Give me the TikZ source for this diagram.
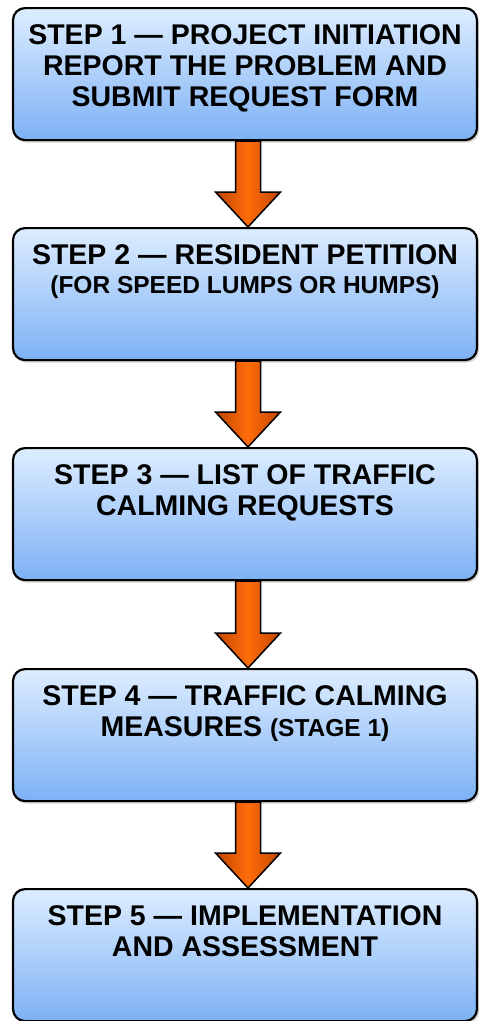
\documentclass[tikz,border=0pt]{standalone}
\usepackage{fontspec}
\setmainfont{Liberation Sans}
\usetikzlibrary{calc,shadows}
\definecolor{boxtop}{HTML}{DDEDFF}
\definecolor{boxbot}{HTML}{7DB1F5}
\definecolor{arrmid}{HTML}{FF6C0A}
\definecolor{arredge}{HTML}{C04600}
\tikzset{
  stepbox/.style={draw=black, line width=2.2pt, rounded corners=12pt,
    top color=boxtop, bottom color=boxbot,
    minimum width=464pt, minimum height=132pt, anchor=north, inner sep=0pt,
    drop shadow={opacity=0.35, shadow xshift=2pt, shadow yshift=-2.5pt}},
  steptext/.style={anchor=north, inner sep=0pt, align=center,
    font=\bfseries\fontsize{28.5}{31}\selectfont},
  flowarrow/.style={draw=black, line width=1.5pt, line join=miter,
    left color=arredge, right color=arredge, middle color=arrmid}
}
\newcommand{\smallpart}[1]{{\fontsize{24.5}{29}\selectfont #1}}
\newcommand{\blockarrow}[2]{%
  \draw[flowarrow] let \p1=($(#1.south)+(3,0)$), \p2=($(#2.north)+(3,0)$) in
    (\x1-12.5pt,\y1) -- (\x1-12.5pt,\y2+35pt) -- (\x1-32.5pt,\y2+35pt) --
    (\x1,\y2) -- (\x1+32.5pt,\y2+35pt) -- (\x1+12.5pt,\y2+35pt) --
    (\x1+12.5pt,\y1) -- cycle;}
\begin{document}
\begin{tikzpicture}[x=1pt,y=-1pt]
\node[stepbox] (b1) at (245,7) {};
\node[stepbox] (b2) at (245,227) {};
\node[stepbox] (b3) at (245,447) {};
\node[stepbox] (b4) at (245,668) {};
\node[stepbox] (b5) at (245,888) {};

\node[steptext] (t1) at ($(b1.north)+(0,17)$) {STEP 1 — PROJECT INITIATION\\REPORT THE PROBLEM AND\\SUBMIT REQUEST FORM};
\node[steptext] (t2) at ($(b2.north)+(0,17)$) {STEP 2 — RESIDENT PETITION\\[-2pt]\smallpart{(FOR SPEED LUMPS OR HUMPS)}};
\node[steptext] (t3) at ($(b3.north)+(0,17)$) {STEP 3 — LIST OF TRAFFIC\\CALMING REQUESTS};
\node[steptext] (t4) at ($(b4.north)+(0,17)$) {STEP 4 — TRAFFIC CALMING\\MEASURES \smallpart{(STAGE 1)}};
\node[steptext] (t5) at ($(b5.north)+(0,17)$) {STEP 5 — IMPLEMENTATION\\AND ASSESSMENT};

\blockarrow{b1}{b2}
\blockarrow{b2}{b3}
\blockarrow{b3}{b4}
\blockarrow{b4}{b5}
\pgfresetboundingbox
\useasboundingbox (0,0) rectangle (479,1021);
\end{tikzpicture}
\end{document}
